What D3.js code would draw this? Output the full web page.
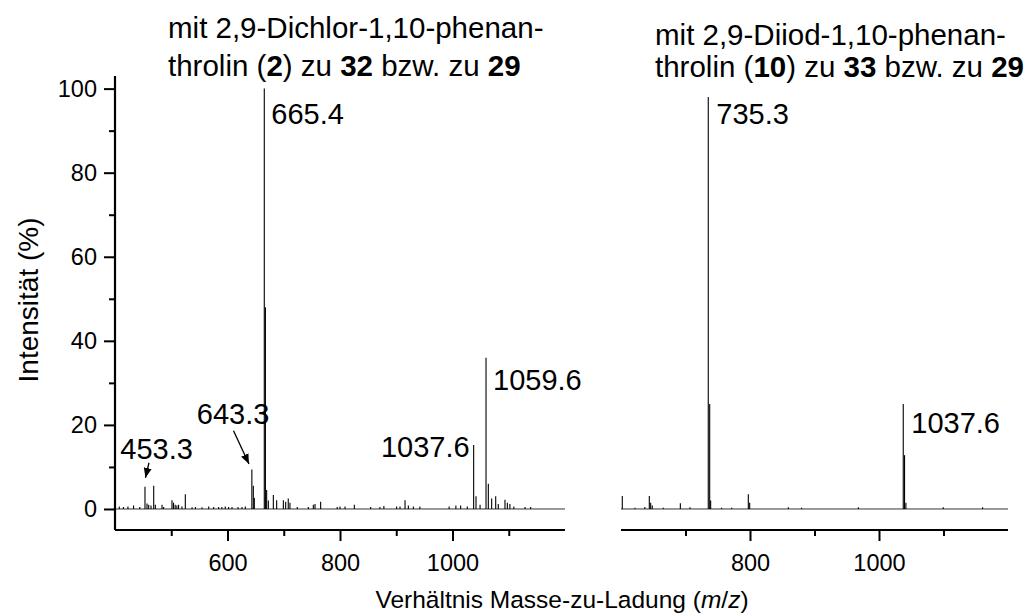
<!DOCTYPE html>
<html>
<head>
<meta charset="utf-8">
<script src="https://cdn.jsdelivr.net/npm/d3@7/dist/d3.min.js"></script>
<style>
  html, body { margin: 0; padding: 0; background: #fff; }
  svg { display: block; font-family: "Liberation Sans", Arial, sans-serif; }
</style>
</head>
<body>
<svg id="chart" width="1028" height="614"></svg>
<script>
// ---------- data ----------
const leftMz  = [407.6, 415, 423, 433, 444, 453.3, 456.9, 459.9, 464, 468.8, 471.7, 483.6, 486.5, 501.3, 504, 507, 510, 513, 519, 525, 537, 543, 554.7, 566.6, 575.4, 584.3, 590, 596, 602, 608, 618.7, 625.8, 631.7,
                 643.3, 645.9, 647.7, 665.4, 667.4, 669.6, 672.6, 681.5, 687.4, 699.3, 703.4, 708, 711, 724, 743.7, 752.6, 755.6, 765.6, 795, 800, 809, 825.5, 854.5,
                 871, 878, 900.7, 906.7, 915.6, 921.5, 930.4, 942, 994, 1006, 1014.5, 1026.3, 1037.6, 1041.8, 1049, 1059.6, 1063.7, 1069.6, 1076.8, 1081.4, 1093.3, 1097.5, 1102, 1109, 1129, 1139];
const leftInt = [0.6, 0.5, 0.6, 0.8, 0.5, 5.3, 1.3, 1.0, 0.8, 5.5, 1.0, 1.0, 0.5, 2.1, 1.5, 1.0, 0.8, 1.0, 0.6, 3.5, 0.4, 0.5, 0.4, 0.6, 0.5, 0.5, 0.5, 0.6, 0.5, 0.5, 0.5, 0.5, 0.6,
                 9.4, 5.5, 2.6, 100, 48, 4.5, 2.0, 3.3, 2.1, 2.1, 1.7, 2.5, 1.5, 0.5, 0.5, 1.0, 1.2, 1.7, 0.5, 0.6, 0.6, 1.0, 0.5,
                 0.5, 0.7, 0.6, 0.6, 2.1, 0.8, 0.6, 0.6, 0.6, 0.8, 0.8, 0.6, 15.2, 3.0, 1.0, 36, 6.0, 2.5, 3.0, 1.2, 2.2, 1.5, 1.2, 0.6, 0.5, 0.5];

const rightMz  = [602, 621.7, 637, 643.9, 646, 648.5, 665.6, 692, 707, 735.3, 737.5, 739, 756, 771.6, 797.4, 799.5, 859.4, 880, 968, 1037.6, 1039.6, 1041.7, 1099.6, 1160.6];
const rightInt = [3.1, 0.3, 0.5, 3.1, 1.5, 0.8, 0.3, 1.35, 0.4, 98, 25, 2.0, 0.3, 0.3, 3.5, 1.5, 0.4, 0.3, 0.4, 25, 12.8, 1.5, 0.4, 0.4];

const yTicks = [0, 20, 40, 60, 80, 100];
const yMinorTicks = [10, 30, 50, 70, 90];
const leftXTicks = [600, 800, 1000];
const leftXMinor = [500, 700, 900, 1100];
const rightXTicks = [800, 1000];
const rightXMinor = [700, 900, 1100];

// annotation labels: [text, mz, intensity]
const leftLabels = [["665.4", 665.4, 91.5], ["1059.6", 1059.6, 28.3]];
const leftLabelsEnd = [["1037.6", 1037.6, 12.4]];
// [text, label mz, label intensity, arrow start mz, start int, arrow end mz, end int]
const leftLabelsArrow = [["643.3", 610, 20.2, 610.7, 18.6, 638.2, 10.7], ["453.3", 474, 12.0, 460.4, 11.0, 454.2, 7.4]];
const rightLabels = [["735.3", 735.3, 91.7], ["1037.6", 1037.6, 18]];

// ---------- scales ----------
const svg = d3.select("#chart");
const y = d3.scaleLinear().domain([-5, 103]).range([530, 76]);
const xL = d3.scaleLinear().domain([400, 1200]).range([115, 565]);
const xR = d3.scaleLinear().domain([600, 1200]).range([621, 1008]);

const FS_TICK = 23.5, FS_LAB = 29, FS_TITLE = 29.5;

// marker
svg.append("defs").append("marker")
  .attr("id", "arr").attr("viewBox", "0 0 10 10").attr("refX", 10).attr("refY", 5)
  .attr("markerWidth", 10).attr("markerHeight", 10).attr("markerUnits", "userSpaceOnUse")
  .attr("orient", "auto")
  .append("path").attr("d", "M0,1 L10,5 L0,9 Z").attr("fill", "#000");

function spectrum(x, mz, inten) {
  const g = svg.append("g");
  g.append("line").attr("x1", x.range()[0]).attr("x2", x.range()[1])
    .attr("y1", y(0)).attr("y2", y(0)).attr("stroke", "#333").attr("stroke-width", 1);
  g.selectAll("line.pk").data(mz).join("line").attr("class", "pk")
    .attr("x1", d => x(d)).attr("x2", d => x(d))
    .attr("y1", y(0)).attr("y2", (d, i) => y(inten[i]))
    .attr("stroke", "#000").attr("stroke-width", 1.1);
}

function xAxis(x, major, minor) {
  const g = svg.append("g").attr("transform", `translate(0,${y.range()[0]})`);
  g.call(d3.axisBottom(x).tickValues(major).tickSize(11).tickPadding(13).tickFormat(d3.format("d")))
    .call(a => a.select(".domain").attr("d", `M${x.range()[0]},0H${x.range()[1]}`).attr("stroke-width", 2.2))
    .call(a => a.selectAll(".tick line").attr("stroke-width", 2))
    .call(a => a.selectAll("text").attr("font-size", FS_TICK).attr("font-family", "Liberation Sans, Arial, sans-serif"));
  g.append("g").call(d3.axisBottom(x).tickValues(minor).tickSize(6).tickFormat(""))
    .call(a => a.select(".domain").remove())
    .call(a => a.selectAll(".tick line").attr("stroke-width", 2));
}

spectrum(xL, leftMz, leftInt);
spectrum(xR, rightMz, rightInt);

// y axis
const gy = svg.append("g").attr("transform", `translate(${xL.range()[0]},0)`);
gy.call(d3.axisLeft(y).tickValues(yTicks).tickSize(11).tickPadding(7))
  .call(a => a.select(".domain").attr("d", `M0,${y.range()[0]}V${y.range()[1]}`).attr("stroke-width", 2.2))
  .call(a => a.selectAll(".tick line").attr("stroke-width", 2))
  .call(a => a.selectAll("text").attr("font-size", FS_TICK).attr("font-family", "Liberation Sans, Arial, sans-serif"));
gy.append("g").call(d3.axisLeft(y).tickValues(yMinorTicks).tickSize(6).tickFormat(""))
  .call(a => a.select(".domain").remove())
  .call(a => a.selectAll(".tick line").attr("stroke-width", 2));

xAxis(xL, leftXTicks, leftXMinor);
xAxis(xR, rightXTicks, rightXMinor);

// annotations
const ann = svg.append("g").attr("font-size", FS_LAB).attr("fill", "#000");
leftLabels.forEach(([t, m, v]) => ann.append("text").attr("x", xL(m) + 7).attr("y", y(v)).text(t));
leftLabelsEnd.forEach(([t, m, v]) => ann.append("text").attr("x", xL(m) - 4).attr("y", y(v)).attr("text-anchor", "end").text(t));
rightLabels.forEach(([t, m, v]) => ann.append("text").attr("x", xR(m) + 8).attr("y", y(v)).text(t));
leftLabelsArrow.forEach(([t, m, v, m1, v1, m2, v2]) => {
  ann.append("text").attr("x", xL(m)).attr("y", y(v)).attr("text-anchor", "middle").text(t);
  svg.append("line").attr("x1", xL(m1)).attr("y1", y(v1)).attr("x2", xL(m2)).attr("y2", y(v2))
    .attr("stroke", "#000").attr("stroke-width", 1.3).attr("marker-end", "url(#arr)");
});

// titles
function title(x0, y0, gap, lines) {
  const t = svg.append("text").attr("font-size", FS_TITLE).attr("x", x0).attr("y", y0);
  lines.forEach((parts, li) => {
    parts.forEach((p, pi) => {
      const ts = t.append("tspan").text(p[0]);
      if (p[1]) ts.attr("font-weight", "bold");
      if (pi === 0) ts.attr("x", x0).attr("dy", li === 0 ? 0 : gap);
    });
  });
}
title(168, 38, 38, [[["mit 2,9-Dichlor-1,10-phenan-"]], [["throlin ("], ["2", true], [") zu "], ["32", true], [" bzw. zu "], ["29", true]]]);
title(655, 45, 32, [[["mit 2,9-Diiod-1,10-phenan-"]], [["throlin ("], ["10", true], [") zu "], ["33", true], [" bzw. zu "], ["29", true]]]);

// axis titles
const xt = svg.append("text").attr("x", 562).attr("y", 608).attr("text-anchor", "middle").attr("font-size", 24.5);
xt.append("tspan").text("Verhältnis Masse-zu-Ladung (");
xt.append("tspan").attr("font-style", "italic").text("m");
xt.append("tspan").text("/");
xt.append("tspan").attr("font-style", "italic").text("z");
xt.append("tspan").text(")");

svg.append("text").attr("transform", "translate(38,300) rotate(-90)").attr("text-anchor", "middle")
  .attr("font-size", 28).text("Intensität (%)");
</script>
</body>
</html>
